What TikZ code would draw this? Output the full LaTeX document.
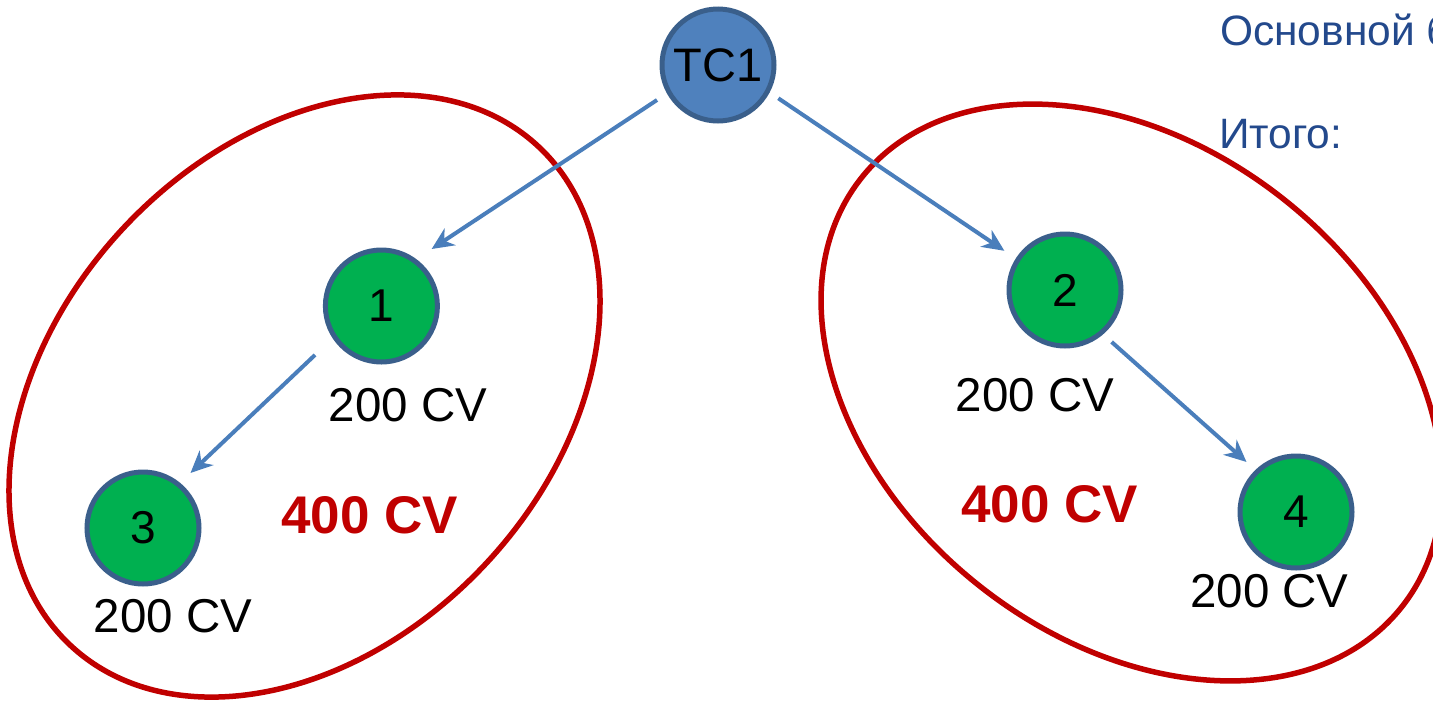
\documentclass[tikz,border=0pt]{standalone}
\usepackage{fontspec}
\setmainfont{Liberation Sans}
\usetikzlibrary{arrows.meta,calc}
\definecolor{tcblue}{HTML}{4F81BD}
\definecolor{rimblue}{HTML}{3A5F8B}
\definecolor{nodegreen}{HTML}{00B050}
\definecolor{arrblue}{HTML}{4A7EBB}
\definecolor{grpred}{HTML}{C00000}
\definecolor{txtblue}{RGB}{35,73,140}
\tikzset{
  tcnode/.style={circle,fill=tcblue,draw=rimblue,line width=5pt,minimum size=112pt,inner sep=0pt,font=\fontsize{47}{56}\selectfont},
  gnode/.style={circle,fill=nodegreen,draw=rimblue,line width=5pt,minimum size=112pt,inner sep=0pt,font=\fontsize{46}{55}\selectfont},
  cvlabel/.style={inner sep=0pt,font=\fontsize{47.5}{57}\selectfont},
  sumlabel/.style={inner sep=0pt,text=grpred,font=\fontsize{53}{64}\selectfont\bfseries},
  infotext/.style={inner sep=0pt,anchor=base west,text=txtblue,font=\fontsize{42.5}{51}\selectfont},
  group/.style={draw=grpred,line width=5.5pt},
  conn/.style={draw=arrblue,line width=4pt,-{Stealth[length=22pt,width=20pt,inset=7pt]}}
}
\begin{document}
\begin{tikzpicture}[x=1pt,y=1pt]
\useasboundingbox (0,0) rectangle (1433,-702);
\clip (0,0) rectangle (1433,-702);
% groups
\draw[group,rotate around={46.7:(304.5,-396)}] (304.5,-396) ellipse [x radius=342,y radius=247];
\draw[group,rotate around={-38.5:(1131.5,-392.5)}] (1131.5,-392.5) ellipse [x radius=345,y radius=246];
% nodes
\node[tcnode] (TC1) at (718,-65) {TC1};
\node[gnode] (n1) at (381.4,-306) {1};
\node[gnode] (n2) at (1065,-290) {2};
\node[gnode] (n3) at (143,-528) {3};
\node[gnode] (n4) at (1296,-512) {4};
% labels
\node[cvlabel] (l1) at (408,-405) {200 CV};
\node[cvlabel] (l2) at (1035,-395) {200 CV};
\node[cvlabel] (l3) at (173,-616) {200 CV};
\node[cvlabel] (l4) at (1269.5,-591) {200 CV};
\node[sumlabel] (s1) at (369.5,-515) {400 CV};
\node[sumlabel] (s2) at (1049.5,-504) {400 CV};
\node[infotext] (t1) at (1220,-45) {Основной б};
\node[infotext] (t2) at (1219,-148) {Итого:};
% connectors
\draw[conn] ($(TC1)+(209.85:70.3)$) -- ($(n1)+(48.6:76)$);
\draw[conn] ($(TC1)+(-28.9:68.9)$) -- ($(n2)+(147.1:72.2)$);
\draw[conn] ($(n1)+(216.4:82.5)$) -- ($(n3)+(49.2:72.7)$);
\draw[conn] ($(n2)+(-48.1:69.8)$) -- ($(n4)+(134.7:70.4)$);
\end{tikzpicture}
\end{document}
